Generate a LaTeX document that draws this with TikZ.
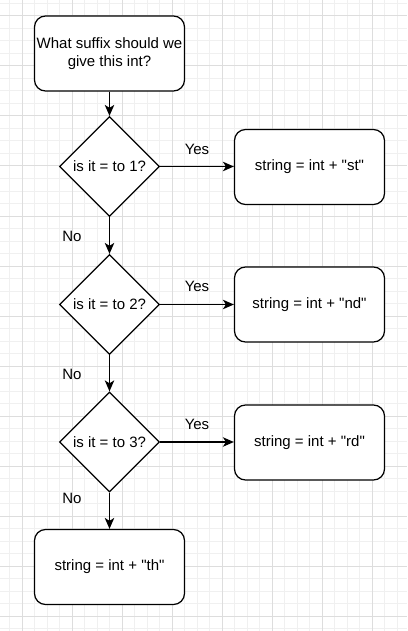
\documentclass[tikz,border=0pt]{standalone}
\usepackage{fontspec}
\setmainfont{Liberation Sans}
\usetikzlibrary{arrows.meta,shapes.geometric}
\definecolor{GridMinor}{HTML}{F0F0F0}
\definecolor{GridMajor}{HTML}{DDDDDD}
\definecolor{Ink}{HTML}{000000}
\newcommand{\sfx}[1]{\textquotedbl#1\textquotedbl}
\tikzset{
  every picture/.append style={font=\fontsize{15}{17.5}\selectfont},
  blk/.style={rectangle, rounded corners=11pt, draw=Ink, fill=white, line width=1.25pt, align=center,
              minimum width=150pt, minimum height=75pt, inner sep=2pt},
  ask/.style={diamond, aspect=1, draw=Ink, fill=white, line width=1.25pt,
              minimum width=100pt, minimum height=100pt, inner sep=0pt},
  lbl/.style={inner sep=0pt, text=Ink},
  flow/.style={-{Stealth[length=11pt,width=9.5pt,inset=3pt]}, line width=1.25pt, draw=Ink},
}
\begin{document}
\begin{tikzpicture}[x=1pt,y=-1pt]

% ---------------- page and grid ------------------------------------------------
\fill[white] (0,0) rectangle (407,631);
\useasboundingbox (0,0) rectangle (407,631);
\foreach \x in {9.5,22,...,400}{ \draw[GridMinor, line width=1pt] (\x,0) -- (\x,631); }
\foreach \y in {3.5,16,...,631}{ \draw[GridMinor, line width=1pt] (0,\y) -- (407,\y); }
\foreach \x in {22,72,...,372}{ \draw[GridMajor, line width=1pt] (\x,0) -- (\x,631); }
\foreach \y in {16,66,...,616}{ \draw[GridMajor, line width=1pt] (0,\y) -- (407,\y); }

% ---------------- main column --------------------------------------------------
\node[blk] (q) at (109.5,53.5) {What suffix should we\\give this int?};
\node[ask] (d1) at (109.5,166.5) {is it = to 1?};
\node[ask] (d2) at (109.5,304.5) {is it = to 2?};
\node[ask] (d3) at (109.5,442) {is it = to 3?};
\node[blk] (s4) at (109.5,567) {string = int + \sfx{th}};

% ---------------- answers ------------------------------------------------------
\node[blk] (s1) at (309.5,167) {string = int + \sfx{st}};
\node[blk] (s2) at (309.5,304.5) {string = int + \sfx{nd}};
\node[blk] (s3) at (309.5,442.5) {string = int + \sfx{rd}};

% ---------------- connectors ---------------------------------------------------
\draw[flow] (q) -- (d1);
\draw[flow] (d1) -- (d2);
\draw[flow] (d2) -- (d3);
\draw[flow] (d3) -- (s4);
\draw[flow] (d1.east) -- (d1.east -| s1.west);
\draw[flow] (d2.east) -- (d2.east -| s2.west);
\draw[flow] (d3.east) -- (d3.east -| s3.west);

\node[lbl] (yes1) at (197,149) {Yes};
\node[lbl] (yes2) at (197,286) {Yes};
\node[lbl] (yes3) at (197,424) {Yes};
\node[lbl] (no1) at (72,236) {No};
\node[lbl] (no2) at (72,374) {No};
\node[lbl] (no3) at (72,498.5) {No};

\end{tikzpicture}
\end{document}
